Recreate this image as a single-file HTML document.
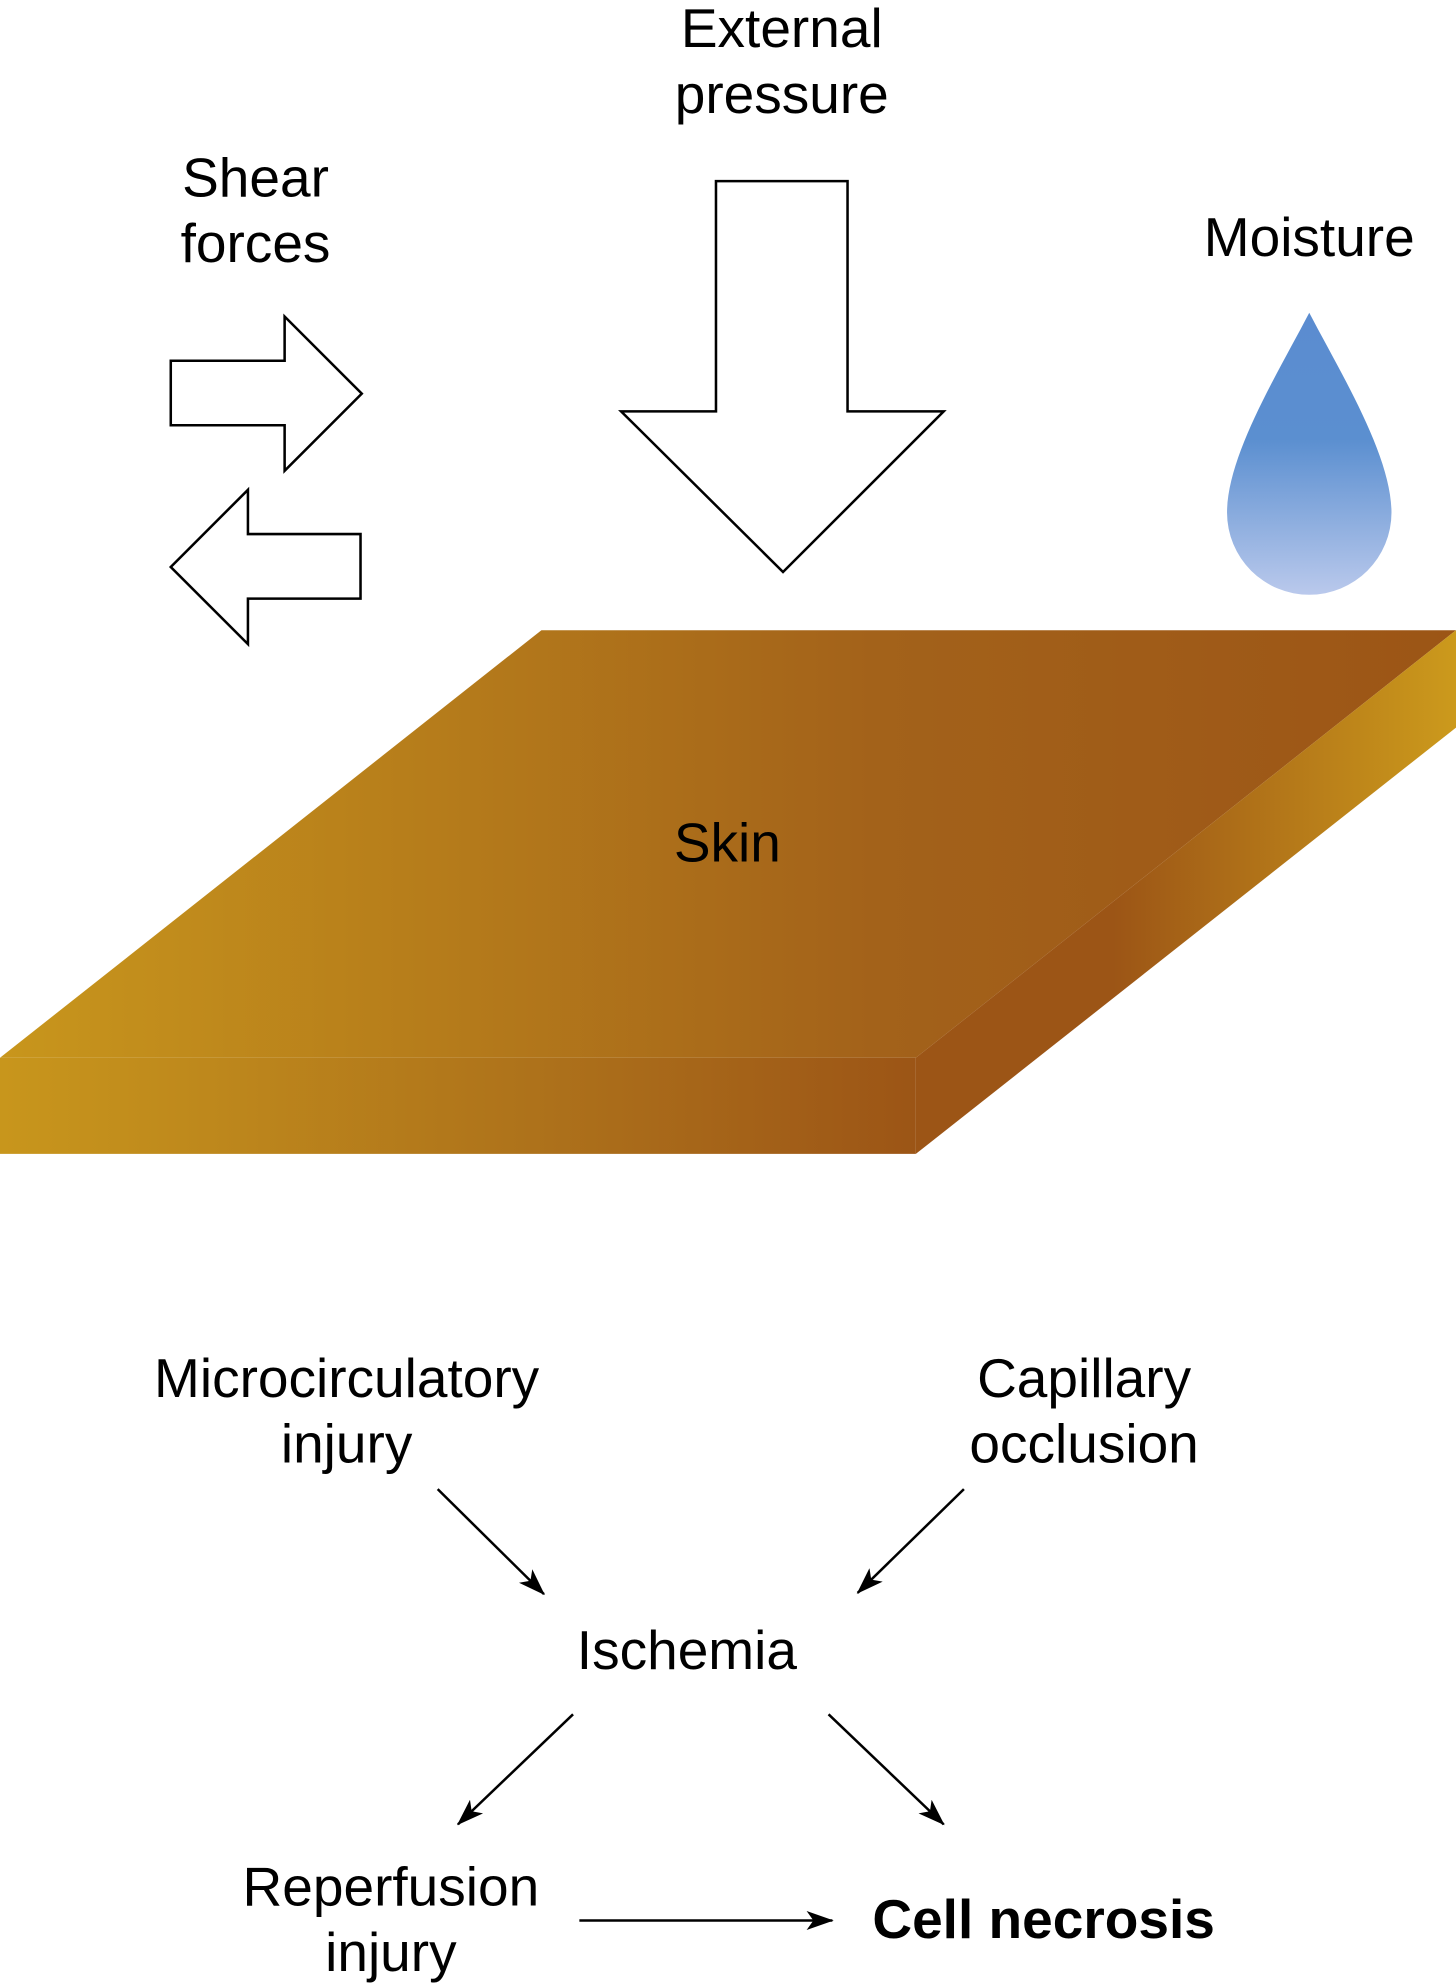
<!DOCTYPE html>
<html><head><meta charset="utf-8"><style>
html,body{margin:0;padding:0;background:#fff;}
svg{display:block;}
text{font-family:"Liberation Sans",Arial,sans-serif;font-size:43.5px;fill:#000;}
</style></head><body>
<svg width="1456" height="1984" viewBox="0 0 1151 1568" xmlns="http://www.w3.org/2000/svg">
<defs>
<linearGradient id="sk" x1="0" y1="0" x2="1151" y2="0" gradientUnits="userSpaceOnUse">
<stop offset="0" stop-color="#c8961c"/><stop offset="0.6" stop-color="#a3621a"/><stop offset="1" stop-color="#9c5516"/></linearGradient>
<linearGradient id="fr" x1="0" y1="0" x2="724" y2="0" gradientUnits="userSpaceOnUse">
<stop offset="0" stop-color="#c8961c"/><stop offset="0.6" stop-color="#ad711b"/><stop offset="1" stop-color="#9c5516"/></linearGradient>
<linearGradient id="sd" x1="880" y1="0" x2="1151" y2="0" gradientUnits="userSpaceOnUse">
<stop offset="0" stop-color="#9c5516"/><stop offset="1" stop-color="#cc9a1c"/></linearGradient>
<linearGradient id="dr" x1="0" y1="247" x2="0" y2="470" gradientUnits="userSpaceOnUse">
<stop offset="0" stop-color="#5b8cd0"/><stop offset="0.45" stop-color="#5b8fd0"/><stop offset="1" stop-color="#bac9ec"/></linearGradient>
<marker id="a" viewBox="0 0 20 14" refX="19" refY="7" markerWidth="22" markerHeight="15" orient="auto" markerUnits="userSpaceOnUse">
<path d="M0,0 L20,7 L0,14 L5,7 Z" fill="#000"/></marker>
</defs>
<text x="618" y="37" text-anchor="middle">External</text>
<text x="618" y="89" text-anchor="middle">pressure</text>
<polygon points="566,143 670,143 670,325 746,325 619,452 491,325 566,325" fill="#fff" stroke="#000" stroke-width="2"/>
<text x="202" y="155" text-anchor="middle">Shear</text>
<text x="202" y="207" text-anchor="middle">forces</text>
<polygon points="135,285 225,285 225,250 286,311 225,372 225,336 135,336" fill="#fff" stroke="#000" stroke-width="2"/>
<polygon points="285,422 196,422 196,387 135,448 196,509 196,473 285,473" fill="#fff" stroke="#000" stroke-width="2"/>
<text x="1035" y="202" text-anchor="middle">Moisture</text>
<path d="M1035,247 C1010,295 970,360 970,405 A65,65 0 0 0 1100,405 C1100,360 1060,295 1035,247Z" fill="url(#dr)"/>
<polygon points="428,498 1151,498 724,836 0,836" fill="url(#sk)"/>
<polygon points="0,836 724,836 724,912 0,912" fill="url(#fr)"/>
<polygon points="724,836 1151,498 1151,575 724,912" fill="url(#sd)"/>
<text x="575" y="681" text-anchor="middle">Skin</text>
<text x="274" y="1104" text-anchor="middle">Microcirculatory</text>
<text x="274" y="1156" text-anchor="middle">injury</text>
<text x="857" y="1104" text-anchor="middle">Capillary</text>
<text x="857" y="1156" text-anchor="middle">occlusion</text>
<text x="543" y="1319" text-anchor="middle">Ischemia</text>
<text x="309" y="1506" text-anchor="middle">Reperfusion</text>
<text x="309" y="1558" text-anchor="middle">injury</text>
<text x="825" y="1532" text-anchor="middle" font-weight="bold">Cell necrosis</text>
<g stroke="#000" stroke-width="2" fill="none" marker-end="url(#a)">
<line x1="346" y1="1177" x2="430" y2="1260"/>
<line x1="762" y1="1177" x2="678" y2="1259"/>
<line x1="453" y1="1355" x2="362" y2="1442"/>
<line x1="655" y1="1355" x2="746" y2="1442"/>
<line x1="458" y1="1518" x2="658" y2="1518"/>
</g>
</svg>
</body></html>
